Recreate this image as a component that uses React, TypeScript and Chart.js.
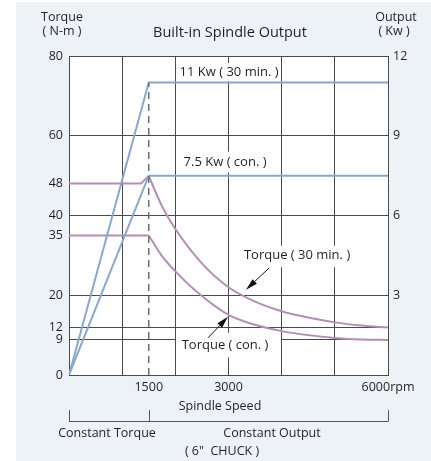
import React, { useEffect, useRef } from 'react';
import { Chart, registerables } from 'chart.js';

Chart.register(...registerables);

// ---- data ----
const rpmGridTicks = [0, 1000, 1500, 2000, 3000, 4000, 5000, 6000];
const rpmLabelTicks = [1500, 3000, 6000];
const torqueTicks = [0, 9, 12, 20, 35, 40, 48, 60, 80];
const torqueNoGrid = [35, 48];
const outputTicks = [0, 3, 6, 9, 12];

const dashRpm = [1500, 1500];
const dashKw = [0, 11];

const out30Rpm = [0, 1500, 6000];
const out30Kw = [0, 11, 11];
const outConRpm = [0, 1500, 6000];
const outConKw = [0, 7.5, 7.5];

const torque30FlatRpm = [0, 1350, 1500];
const torque30Flat = [48, 48, 49.9];
const torque30Rpm = [1500, 1750, 2000, 2500, 3000, 3500, 4000, 4500, 5000, 5500, 6000];
const torque30 = [49.9, 42.3, 36.6, 28.0, 22.0, 18.4, 16.0, 14.4, 13.2, 12.4, 11.9];

const torqueConFlatRpm = [0, 1500];
const torqueConFlat = [35, 35];
const torqueConRpm = [1500, 1750, 2000, 2500, 3000, 3500, 4000, 4500, 5000, 5500, 6000];
const torqueCon = [35, 29.8, 26.0, 19.8, 15.1, 12.6, 11.0, 10.0, 9.3, 8.9, 8.8];

// ---- style ----
const FONT = "'Open Sans', 'Noto Sans', sans-serif";
const TEXT = '#231f20';
const GRID = '#4a4a4c';
const BLUE = '#86a8d0';
const PURPLE = '#b58cb3';
const BG = '#edf2f7';

// annotation label boxes (data coords) and texts
const labelBoxes = [
  { x0: 2030, x1: 3985, y0: 73.7, y1: 78.2 },
  { x0: 2030, x1: 3985, y0: 50.8, y1: 56.0 },
  { x0: 3250, x1: 5340, y0: 27.0, y1: 32.4 },
  { x0: 2015, x1: 3985, y0: 4.4, y1: 10.6 },
];
const labelTexts = [
  { text: '11 Kw ( 30 min. )', x: 3010, y: 75.8 },
  { text: '7.5 Kw ( con. )', x: 2935, y: 53.4 },
  { text: 'Torque ( 30 min. )', x: 4290, y: 30.0 },
  { text: 'Torque ( con. )', x: 2935, y: 7.5 },
];
const arrows = [
  { fx: 3761, fy: 26.8, tx: 3329, ty: 21.4 },
  { fx: 2614, fy: 9.3, tx: 2990, ty: 14.6 },
];

const pts = (xs: number[], ys: number[]) => xs.map((x, i) => ({ x, y: ys[i] }));

const decor = {
  id: 'decor',
  beforeDraw(chart: any) {
    const { ctx, chartArea: a } = chart;
    ctx.save();
    ctx.fillStyle = '#ffffff';
    ctx.fillRect(0, 0, chart.width, chart.height);
    ctx.fillStyle = BG;
    ctx.fillRect(16, 2, chart.width - 16, chart.height - 2);
    ctx.fillStyle = '#ffffff';
    ctx.fillRect(a.left, a.top, a.right - a.left, a.bottom - a.top);
    ctx.restore();
  },
  beforeDatasetsDraw(chart: any) {
    const { ctx } = chart;
    const xs = chart.scales.x;
    const ys = chart.scales.y;
    ctx.save();
    ctx.fillStyle = '#ffffff';
    for (const b of labelBoxes) {
      const l = xs.getPixelForValue(b.x0);
      const r = xs.getPixelForValue(b.x1);
      const t = ys.getPixelForValue(b.y1);
      const btm = ys.getPixelForValue(b.y0);
      ctx.fillRect(l, t, r - l, btm - t);
    }
    ctx.restore();
  },
  afterDatasetsDraw(chart: any) {
    const { ctx } = chart;
    const xs = chart.scales.x;
    const ys = chart.scales.y;
    ctx.save();
    ctx.font = `13px ${FONT}`;
    ctx.fillStyle = TEXT;
    ctx.textAlign = 'center';
    ctx.textBaseline = 'middle';
    for (const l of labelTexts) {
      ctx.fillText(l.text, xs.getPixelForValue(l.x), ys.getPixelForValue(l.y));
    }
    for (const a of arrows) {
      const fx = xs.getPixelForValue(a.fx);
      const fy = ys.getPixelForValue(a.fy);
      const tx = xs.getPixelForValue(a.tx);
      const ty = ys.getPixelForValue(a.ty);
      const ang = Math.atan2(ty - fy, tx - fx);
      const len = 12;
      const hw = 3.2;
      const bx = tx - Math.cos(ang) * len;
      const by = ty - Math.sin(ang) * len;
      ctx.strokeStyle = '#111';
      ctx.lineWidth = 1;
      ctx.beginPath();
      ctx.moveTo(fx, fy);
      ctx.lineTo(bx, by);
      ctx.stroke();
      ctx.fillStyle = '#111';
      ctx.beginPath();
      ctx.moveTo(tx, ty);
      ctx.lineTo(bx + Math.sin(ang) * hw, by - Math.cos(ang) * hw);
      ctx.lineTo(bx - Math.sin(ang) * hw, by + Math.cos(ang) * hw);
      ctx.closePath();
      ctx.fill();
    }
    ctx.restore();
  },
  afterDraw(chart: any) {
    const { ctx } = chart;
    const xs = chart.scales.x;
    ctx.save();
    ctx.fillStyle = TEXT;
    ctx.textAlign = 'center';
    ctx.textBaseline = 'middle';
    ctx.font = `12.5px ${FONT}`;
    ctx.fillText('Torque', 62, 17);
    ctx.fillText('( N-m )', 62, 31);
    ctx.fillText('Output', 396, 17);
    ctx.fillText('( Kw )', 394, 31);
    ctx.font = `14.5px ${FONT}`;
    ctx.fillText('Built-in Spindle Output', 230, 33);
    ctx.font = `12.5px ${FONT}`;
    ctx.fillText('Spindle Speed', 220, 406);
    ctx.fillText('Constant Torque', 107, 433);
    ctx.fillText('Constant Output', 272, 433);
    ctx.fillText('( 6"  CHUCK )', 222, 451);
    // bracket
    const x0 = xs.getPixelForValue(0);
    const x1 = xs.getPixelForValue(1500);
    const x2 = xs.getPixelForValue(6000);
    ctx.strokeStyle = '#555';
    ctx.lineWidth = 1;
    ctx.beginPath();
    ctx.moveTo(x0, 421.5);
    ctx.lineTo(x2, 421.5);
    for (const x of [x0, x1, x2]) {
      ctx.moveTo(Math.round(x) + 0.5, 410);
      ctx.lineTo(Math.round(x) + 0.5, 421.5);
    }
    ctx.stroke();
    ctx.restore();
  },
};

export default function App() {
  const ref = useRef<HTMLCanvasElement>(null);
  useEffect(() => {
    const font = { family: FONT, size: 12.5 };
    const chart = new Chart(ref.current as HTMLCanvasElement, {
      type: 'line',
      data: {
        datasets: [
          {
            data: pts(dashRpm, dashKw), yAxisID: 'y1', borderColor: '#6d6e71',
            borderWidth: 1.5, borderDash: [7, 5], pointRadius: 0,
          },
          { data: pts(out30Rpm, out30Kw), yAxisID: 'y1', borderColor: BLUE, borderWidth: 2, pointRadius: 0 },
          { data: pts(outConRpm, outConKw), yAxisID: 'y1', borderColor: BLUE, borderWidth: 2, pointRadius: 0 },
          { data: pts(torque30FlatRpm, torque30Flat), yAxisID: 'y', borderColor: PURPLE, borderWidth: 2, pointRadius: 0 },
          {
            data: pts(torque30Rpm, torque30), yAxisID: 'y', borderColor: PURPLE, borderWidth: 2,
            pointRadius: 0, cubicInterpolationMode: 'monotone',
          },
          { data: pts(torqueConFlatRpm, torqueConFlat), yAxisID: 'y', borderColor: PURPLE, borderWidth: 2, pointRadius: 0 },
          {
            data: pts(torqueConRpm, torqueCon), yAxisID: 'y', borderColor: PURPLE, borderWidth: 2,
            pointRadius: 0, cubicInterpolationMode: 'monotone',
          },
        ] as any,
      },
      options: {
        animation: false,
        responsive: false,
        devicePixelRatio: 1,
        layout: { padding: { top: 56, bottom: 56, left: 0, right: 0 } },
        plugins: { legend: { display: false }, tooltip: { enabled: false }, title: { display: false } },
        elements: { point: { radius: 0 }, line: { tension: 0 } },
        scales: {
          x: {
            type: 'linear', min: 0, max: 6000,
            afterBuildTicks: (s: any) => { s.ticks = rpmGridTicks.map((v) => ({ value: v })); },
            afterFit: (s: any) => { s.height = 30; },
            grid: {
              color: (c: any) => (c.tick && c.tick.value === 1500 ? 'rgba(0,0,0,0)' : GRID),
              lineWidth: 1, drawTicks: false,
            },
            border: { display: true, color: GRID, width: 1 },
            ticks: {
              autoSkip: false, maxRotation: 0, padding: 5, font, color: TEXT,
              callback: (v: any) => (rpmLabelTicks.includes(v) ? (v === 6000 ? '6000rpm' : String(v)) : ''),
            },
          },
          y: {
            type: 'linear', position: 'left', min: 0, max: 80,
            afterBuildTicks: (s: any) => { s.ticks = torqueTicks.map((v) => ({ value: v })); },
            afterFit: (s: any) => { s.width = 69; },
            grid: {
              color: (c: any) => (c.tick && torqueNoGrid.includes(c.tick.value) ? 'rgba(0,0,0,0)' : GRID),
              lineWidth: 1, drawTicks: false,
            },
            border: { display: true, color: GRID, width: 1 },
            ticks: { autoSkip: false, padding: 6, font, color: TEXT, callback: (v: any) => String(v) },
          },
          y1: {
            type: 'linear', position: 'right', min: 0, max: 12,
            afterBuildTicks: (s: any) => { s.ticks = outputTicks.map((v) => ({ value: v })); },
            afterFit: (s: any) => { s.width = 43; },
            grid: { display: false, drawTicks: false },
            border: { display: true, color: GRID, width: 1 },
            ticks: { autoSkip: false, padding: 5, font, color: TEXT, callback: (v: any) => (v === 0 ? '' : String(v)) },
          },
        },
      } as any,
      plugins: [decor],
    });
    return () => chart.destroy();
  }, []);
  return (
    <div style={{ position: 'fixed', left: 0, top: 0, width: 431, height: 461, background: '#fff' }}>
      <canvas ref={ref} width={431} height={461} style={{ display: 'block', width: 431, height: 461 }} />
    </div>
  );
}
